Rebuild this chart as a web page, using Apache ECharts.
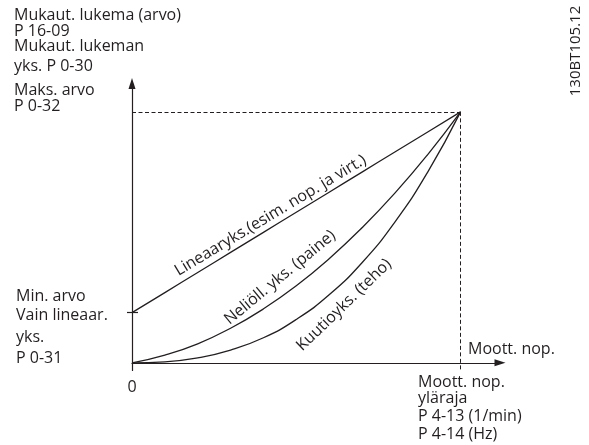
<!DOCTYPE html>
<html>
<head>
<meta charset="utf-8">
<script src="https://cdn.jsdelivr.net/npm/echarts@6/dist/echarts.min.js"></script>
<style>
  html, body { margin: 0; padding: 0; background: #ffffff; }
  #chart { width: 589px; height: 445px; }
</style>
</head>
<body>
<div id="chart"></div>
<script>
// ---- data (percent of max speed / percent of max readout) ----
const speedPct   = [0, 10, 20, 30, 40, 50, 60, 70, 80, 90, 100];
const linearVals = [20, 28, 36, 44, 52, 60, 68, 76, 84, 92, 100];
const quadVals   = [0, 3.1, 7.6, 13.8, 21.5, 30.7, 41.5, 53.8, 67.6, 83.0, 100];
const cubicVals  = [0, 0.4, 2.0, 5.1, 10.0, 17.3, 27.1, 39.9, 56.1, 76.0, 100];
const maxSpeed = 100;
const maxValue = 100;
const minTickValue = 20;
const xTickLabels = ['0'];

const INK = '#231f20';
const FONT = 'Open Sans';
const FS = 16;

const pairs = (ys) => speedPct.map((x, i) => [x, ys[i]]);

const chart = echarts.init(document.getElementById('chart'), null, { renderer: 'canvas' });

function txt(text, x, baseline, opts) {
  opts = opts || {};
  return {
    type: 'text',
    x: x,
    y: baseline - 5,
    rotation: opts.rotation || 0,
    style: {
      text: text,
      fill: INK,
      font: (opts.size || FS) + 'px "' + FONT + '"',
      align: opts.align || 'left',
      verticalAlign: 'middle'
    }
  };
}
function rtxt(text, cx, cy, deg, size) {
  return {
    type: 'text',
    x: cx, y: cy,
    rotation: deg * Math.PI / 180,
    style: {
      text: text, fill: INK,
      font: (size || FS) + 'px "' + FONT + '"',
      align: 'center', verticalAlign: 'middle'
    }
  };
}

const lineSeries = (name, ys, extra) => Object.assign({
  name: name,
  type: 'line',
  data: pairs(ys),
  smooth: true,
  showSymbol: false,
  symbol: 'none',
  silent: true,
  lineStyle: { color: INK, width: 1.3 },
  z: 3
}, extra || {});

const option = {
  backgroundColor: '#ffffff',
  animation: false,
  textStyle: { fontFamily: FONT, color: INK },
  grid: { left: 132, right: 89, top: 83.5, bottom: 74.6, containLabel: false },
  xAxis: {
    type: 'value', min: 0, max: 112, interval: 100,
    axisLine: { show: true, onZero: true, symbol: ['none', 'triangle'], symbolSize: [7, 11],
                lineStyle: { color: INK, width: 1.2 } },
    axisTick: { show: false },
    splitLine: { show: false },
    axisLabel: { show: true, margin: 9, color: INK, fontFamily: FONT, fontSize: FS,
                 formatter: v => (v === 0 ? xTickLabels[0] : '') }
  },
  yAxis: [{
    type: 'value', min: -3, max: 111.3,
    axisLine: { show: true, onZero: true, symbol: ['none', 'triangle'], symbolSize: [7, 11],
                lineStyle: { color: INK, width: 1.2 } },
    axisTick: { show: false },
    splitLine: { show: false },
    axisLabel: { show: false }
  }, {
    type: 'value', min: -3, max: 111.3, position: 'left', offset: -6,
    axisLine: { show: false, onZero: false },
    axisTick: { show: true, customValues: [minTickValue], length: 11,
                lineStyle: { color: INK, width: 1.2 } },
    splitLine: { show: false },
    axisLabel: { show: false }
  }],
  series: [
    lineSeries('Lineaaryks.', linearVals, {
      markLine: {
        silent: true, symbol: 'none', label: { show: false },
        lineStyle: { color: INK, width: 1, type: [4, 2.5] },
        data: [
          [{ coord: [0, maxValue] }, { coord: [maxSpeed, maxValue] }],
          [{ coord: [maxSpeed, maxValue] }, { coord: [maxSpeed, -3] }]
        ]
      }
    }),
    lineSeries('Neliöll. yks.', quadVals),
    lineSeries('Kuutioyks.', cubicVals)
  ],
  graphic: [
    txt('Mukaut. lukema (arvo)', 14, 20.5),
    txt('P 16-09', 14, 36),
    txt('Mukaut. lukeman', 14, 51.5),
    txt('yks. P 0-30', 14, 71),
    txt('Maks. arvo', 14, 95),
    txt('P 0-32', 14, 111.5),
    txt('Min. arvo', 16, 301.5),
    txt('Vain lineaar.', 16, 320),
    txt('yks.', 16, 342.5),
    txt('P 0-31', 16, 363),
    txt('Moott. nop.', 468, 354),
    txt('Moott. nop.', 418, 387),
    txt('yläraja', 418, 403),
    txt('P 4-13 (1/min)', 418, 421),
    txt('P 4-14 (Hz)', 418, 439),
    rtxt('130BT105.12', 575.5, 51, 90, 15),
    rtxt('Lineaaryks.(esim. nop. ja virt.)', 270.5, 215.5, 31),
    rtxt('Neliöll. yks. (paine)', 280, 277.5, 39.5),
    rtxt('Kuutioyks. (teho)', 344, 305, 44)
  ]
};
chart.setOption(option);
</script>
</body>
</html>
